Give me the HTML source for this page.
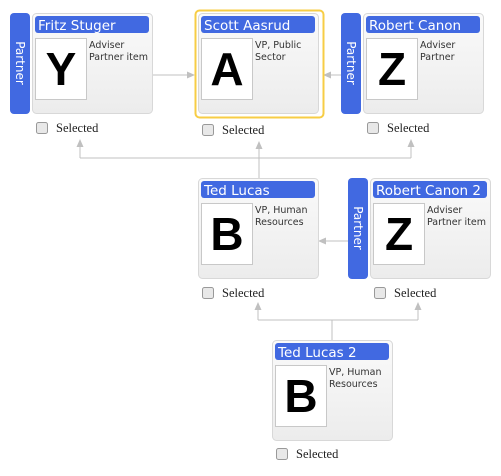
<!DOCTYPE html>
<html><head><meta charset="utf-8"><style>
body{margin:0;background:#fff;width:501px;height:471px;overflow:hidden}
</style></head><body>
<svg width="501" height="471" viewBox="0 0 501 471" font-family="DejaVu Sans, Liberation Sans, sans-serif">
<defs>
<linearGradient id="cg" x1="0" y1="0" x2="0" y2="1"><stop offset="0" stop-color="#fafafa"/><stop offset="1" stop-color="#ececec"/></linearGradient>
<marker id="ar" markerWidth="8" markerHeight="8" refX="7" refY="4" orient="auto" markerUnits="userSpaceOnUse"><path d="M0,0.5 L8,4 L0,7.5 Z" fill="#c0c0c0"/></marker>
</defs>
<g stroke="#c0c0c0" stroke-width="1" fill="none">
<line x1="153" y1="75" x2="194" y2="75" marker-end="url(#ar)"/>
<line x1="342" y1="75" x2="324" y2="75" marker-end="url(#ar)"/>
<polyline points="259,178 259,158"/>
<polyline points="80,158 411,158"/>
<line x1="80" y1="158" x2="80" y2="140" marker-end="url(#ar)"/>
<line x1="259" y1="158" x2="259" y2="142" marker-end="url(#ar)"/>
<line x1="411" y1="158" x2="411" y2="140" marker-end="url(#ar)"/>
<line x1="348" y1="241" x2="319" y2="241" marker-end="url(#ar)"/>
<polyline points="332,340 332,320"/>
<polyline points="258,320 418,320"/>
<line x1="258" y1="320" x2="258" y2="303" marker-end="url(#ar)"/>
<line x1="418" y1="320" x2="418" y2="303" marker-end="url(#ar)"/>
</g>
<rect x="195.5" y="10.5" width="128" height="107" rx="4" fill="none" stroke="#f7cd45" stroke-width="2"/>
<g id="cards"></g>
</svg>
<script>
const cards=[
 {x:32,y:13,name:"Fritz Stuger",l:"Y",t:["Adviser","Partner item"],p:true,cy:122},
 {x:198,y:13,name:"Scott Aasrud",l:"A",t:["VP, Public","Sector"],p:false,cy:124},
 {x:363,y:13,name:"Robert Canon",l:"Z",t:["Adviser","Partner"],p:true,cy:122},
 {x:198,y:178,name:"Ted Lucas",l:"B",t:["VP, Human","Resources"],p:false,cy:287},
 {x:370,y:178,name:"Robert Canon 2",l:"Z",t:["Adviser","Partner item"],p:true,cy:287},
 {x:272,y:340,name:"Ted Lucas 2",l:"B",t:["VP, Human","Resources"],p:false,cy:448}
];
const ns="http://www.w3.org/2000/svg",G=document.getElementById('cards');
function mk(tag,a,par){const e=document.createElementNS(ns,tag);for(const k in a)e.setAttribute(k,a[k]);par.appendChild(e);return e;}
cards.forEach(c=>{
 const g=mk('g',{},G);
 
 
 if(c.p){mk('rect',{x:c.x-22,y:c.y,width:20,height:101,rx:4,fill:'#4169e1'},g);
  const tx=mk('text',{x:0,y:0,fill:'#fff','font-size':12,'text-anchor':'middle',transform:`translate(${c.x-16},${c.y+50}) rotate(90)`},g);tx.textContent='Partner';
  }
 mk('rect',{x:c.x+0.5,y:c.y+0.5,width:120,height:100,rx:4,fill:'url(#cg)',stroke:'#d8d8d8'},g);
 mk('rect',{x:c.x+3,y:c.y+3,width:114,height:17,rx:3,fill:'#4169e1'},g);
 const tt=mk('text',{x:c.x+6,y:c.y+17,fill:'#fff','font-size':13.5},g);tt.textContent=c.name;
 
 mk('rect',{x:c.x+3.5,y:c.y+25.5,width:51,height:61,fill:'#fff',stroke:'#c8c8c8'},g);
 const L=mk('text',{x:c.x+29,y:c.y+72,'font-size':46,'font-weight':'bold','text-anchor':'middle',fill:'#000','font-family':'Liberation Sans, sans-serif'},g);L.textContent=c.l;
 
 c.t.forEach((s,i)=>{const d=mk('text',{x:c.x+57,y:c.y+35+i*12,'font-size':9.5,fill:'#333'},g);d.textContent=s;
  });
 const cb=mk('rect',{x:c.x+4.5,y:c.cy+0.5,width:11,height:11,rx:2,fill:'#e8e8e8',stroke:'#999'},g);
 
 const st=mk('text',{x:c.x+24,y:c.cy+10,'font-size':12.5,fill:'#222','font-family':'Liberation Serif, serif'},g);st.textContent='Selected';
 
});
</script>
</body></html>
